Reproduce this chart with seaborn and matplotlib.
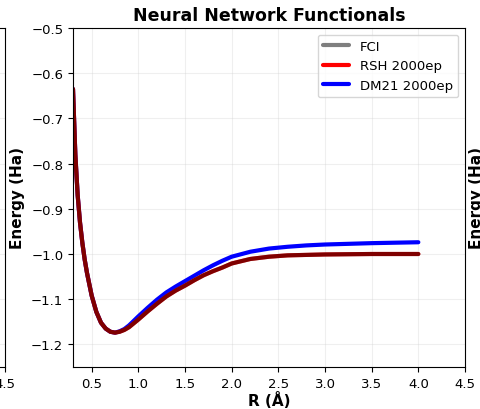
import matplotlib
matplotlib.use("Agg")
import matplotlib.pyplot as plt
import seaborn as sns

# distancias H-H (Å) y energías (Ha)
r = [0.30, 0.325, 0.35, 0.375, 0.40, 0.425, 0.45, 0.50, 0.55, 0.60, 0.65, 0.70,
     0.75, 0.80, 0.85, 0.90, 1.00, 1.10, 1.20, 1.30, 1.40, 1.50, 1.60, 1.70,
     1.80, 1.90, 2.00, 2.20, 2.40, 2.60, 2.80, 3.00, 3.50, 4.00]

e_fci = [-0.635, -0.78, -0.87, -0.93, -0.975, -1.012, -1.042, -1.092, -1.128, -1.152,
         -1.165, -1.172, -1.174, -1.172, -1.168, -1.162, -1.145, -1.127, -1.110, -1.094,
         -1.081, -1.070, -1.058, -1.047, -1.038, -1.030, -1.021, -1.011, -1.006, -1.003,
         -1.002, -1.001, -1.000, -1.000]

e_rsh = list(e_fci)

e_dm21 = [-0.635, -0.78, -0.87, -0.93, -0.975, -1.012, -1.042, -1.092, -1.128, -1.152,
          -1.165, -1.172, -1.174, -1.171, -1.166, -1.158, -1.138, -1.119, -1.101, -1.085,
          -1.072, -1.060, -1.048, -1.036, -1.025, -1.015, -1.006, -0.995, -0.988, -0.984,
          -0.981, -0.979, -0.976, -0.974]

sns.set_style("ticks", {
    "text.color": "black", "axes.labelcolor": "black", "axes.edgecolor": "black",
    "xtick.color": "black", "ytick.color": "black",
})
plt.rcParams["font.family"] = ["DejaVu Sans"]
plt.rcParams["font.size"] = 9.5
plt.rcParams["xtick.major.size"] = 3.5
plt.rcParams["ytick.major.size"] = 3.5
plt.rcParams["axes.linewidth"] = 0.8

fig = plt.figure(figsize=(4.8, 4.1), dpi=100)
W, H = 480, 410
bottom, top = 42 / H, (H - 29) / H
left, right = 73 / W, 465 / W

# paneles vecinos (recortados)
ax_l = fig.add_axes([(4.7 - 392) / W, bottom, 392 / W, top - bottom])
ax_l.set_xlim(0.3, 4.5)
ax_l.set_ylim(-1.25, -0.5)
ax_l.set_xticks([0.5, 1.0, 1.5, 2.0, 2.5, 3.0, 3.5, 4.0, 4.5])
ax_l.grid(True, alpha=0.3)

ax_r = fig.add_axes([532 / W, bottom, 392 / W, top - bottom])
ax_r.set_xlim(0.3, 4.5)
ax_r.set_ylim(-1.25, -0.5)
ax_r.set_ylabel("Energy (Ha)", fontsize=11, fontweight="bold")
ax_r.grid(True, alpha=0.3)

ax = fig.add_axes([left, bottom, right - left, top - bottom])
sns.lineplot(x=r, y=e_fci, ax=ax, color="black", alpha=0.5, lw=3, label="FCI", zorder=3)
sns.lineplot(x=r, y=e_rsh, ax=ax, color="red", lw=3, label="RSH 2000ep", zorder=2)
sns.lineplot(x=r, y=e_dm21, ax=ax, color="blue", lw=3, label="DM21 2000ep", zorder=1)

ax.set_xlim(0.3, 4.5)
ax.set_ylim(-1.25, -0.5)
ax.set_xticks([0.5, 1.0, 1.5, 2.0, 2.5, 3.0, 3.5, 4.0, 4.5])
ax.set_yticks([-1.2, -1.1, -1.0, -0.9, -0.8, -0.7, -0.6, -0.5])
ax.grid(True, alpha=0.3)
ax.set_xlabel("R (Å)", fontsize=11, fontweight="bold", labelpad=1)
ax.set_ylabel("Energy (Ha)", fontsize=11, fontweight="bold")
ax.set_title("Neural Network Functionals", fontsize=12.5, fontweight="bold")
ax.legend(loc="upper right", fontsize=9.5)

fig.savefig("out.png", dpi=100)
